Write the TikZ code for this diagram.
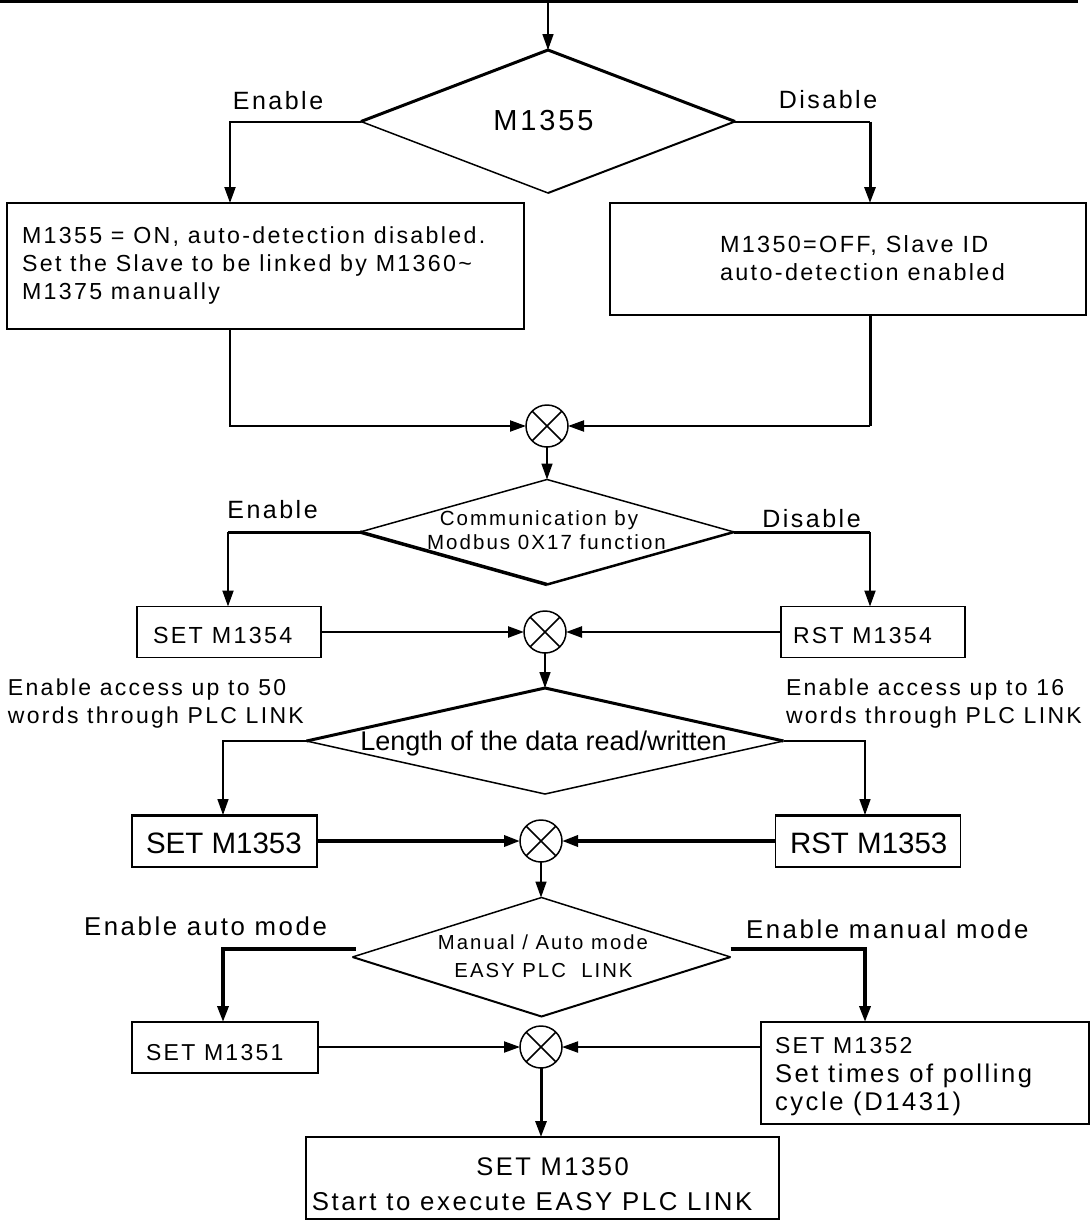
\documentclass[tikz,border=0pt]{standalone}
\usepackage{fontspec}
\setmainfont{Liberation Sans}
\newfontfamily\trk[LetterSpace=10]{Liberation Sans}
\newfontfamily\plain{Liberation Sans}
\usetikzlibrary{arrows.meta,shapes.geometric}
\newcommand{\fsz}[1]{\fontsize{#1}{#1}\selectfont}
\begin{document}
\begin{tikzpicture}[x=1pt,y=-1pt,
  >={Triangle[length=16pt,width=11pt]},
  th/.style={line width=1.5pt},
  md/.style={line width=2pt},
  mdd/.style={line width=2.5pt},
  tk/.style={line width=3pt},
  vtk/.style={line width=3.5pt},
  bx/.style={draw, rectangle, line width=1.5pt, inner sep=0pt, outer sep=0pt},
  crc/.style={draw, circle, line width=1.5pt, minimum size=42pt, inner sep=0pt, outer sep=0pt},
  dm/.style={diamond, draw=none, inner sep=0pt, outer sep=0pt},
  tx/.style={inner sep=0pt, outer sep=0pt, anchor=base},
  txl/.style={inner sep=0pt, outer sep=0pt, anchor=base west},
  line join=miter]
\useasboundingbox (0,0) rectangle (1091,1221);

% top bar
\coordinate (barL) at (0,1.5);
\coordinate (barR) at (1078,1.5);
\coordinate (topc) at (548,3);
\draw[tk] (barL) -- (barR);

% ---------- diamonds
\node[dm, minimum width=374pt, minimum height=143pt] (d1) at (548,121.5) {};
\node[dm, minimum width=374pt, minimum height=105pt] (d2) at (547,532) {};
\node[dm, minimum width=477pt, minimum height=106pt] (d3) at (545,741) {};
\node[dm, minimum width=378pt, minimum height=119pt] (d4) at (541.5,957) {};

\draw[tk] (d1.west) -- (d1.north) -- (d1.east);
\draw[th] (d1.west) -- (d1.south);
\draw[md] (d1.south) -- (d1.east);

\draw[th] (d2.west) -- (d2.north) -- (d2.east);
\draw[vtk] (d2.west) -- (d2.south);
\draw[mdd] (d2.south) -- (d2.east);

\draw[tk] (d3.west) -- (d3.north) -- (d3.east);
\draw[th] (d3.west) -- (d3.south) -- (d3.east);

\draw[th] (d4.west) -- (d4.north) -- (d4.east);
\draw[md] (d4.west) -- (d4.south) -- (d4.east);

% ---------- boxes
\node[bx, minimum width=517pt, minimum height=126pt] (b1L) at (265.5,266) {};
\node[bx, minimum width=476pt, minimum height=112pt] (b1R) at (848,259) {};
\node[bx, minimum width=184pt, minimum height=51pt] (b2L) at (229,632) {};
\node[bx, minimum width=184pt, minimum height=51pt] (b2R) at (873,632) {};
\node[bx, minimum width=185pt, minimum height=52pt] (b3L) at (224.5,841) {};
\node[bx, minimum width=185pt, minimum height=52pt] (b3R) at (868,841) {};
\node[bx, minimum width=186pt, minimum height=51pt] (b4L) at (225,1047.5) {};
\node[bx, minimum width=328pt, minimum height=102pt] (b4R) at (925,1073) {};
\node[bx, minimum width=473pt, minimum height=82pt] (b5) at (542.5,1178) {};

\draw[tk] (b3L.north west) -- (b3L.north east);
\draw[tk] (b3R.north west) -- (b3R.north east);
\draw[md] (b5.north west) -- (b5.north east);

% ---------- circles
\node[crc] (c1) at (547,426) {};
\node[crc] (c2) at (545,632) {};
\node[crc] (c3) at (541,841) {};
\node[crc] (c4) at (541,1047) {};
\foreach \c in {c1,c2,c3,c4}{
  \draw[th] (\c.north east) -- (\c.south west) (\c.north west) -- (\c.south east);
}

% ---------- connectors
\draw[th,->] (topc) -- (d1.north);

\coordinate (k1L) at (230,121.5);
\coordinate (k1R) at (870,121.5);
\draw[md,->] (d1.west) -- (k1L) -- (k1L |- b1L.north);
\draw[md] (d1.east) -- (k1R);
\draw[tk,->] (k1R) -- (k1R |- b1R.north);
\draw[md,->] (k1L |- b1L.south) |- (c1.west);
\draw[tk] (k1R |- b1R.south) -- (k1R |- c1.east);
\draw[md,->] (k1R |- c1.east) -- (c1.east);

\draw[th,->] (c1.south) -- (c1.south |- d2.north);
\coordinate (k2L) at (228,532);
\coordinate (k2R) at (870,532);
\draw[tk] (d2.west) -- (k2L);
\draw[md,->] (k2L) -- (k2L |- b2L.north);
\draw[tk] (d2.east) -- (k2R);
\draw[md,->] (k2R) -- (k2R |- b2R.north);
\draw[mdd,->] (b2L.east) -- (c2.west);
\draw[mdd,->] (b2R.west) -- (c2.east);

\draw[th,->] (c2.south) -- (c2.south |- d3.north);
\coordinate (k3L) at (223,741);
\coordinate (k3R) at (865,741);
\draw[th,->] (d3.west) -- (k3L) -- (k3L |- b3L.north);
\draw[th,->] (d3.east) -- (k3R) -- (k3R |- b3R.north);
\draw[vtk,->] (b3L.east) -- (c3.west);
\draw[vtk,->] (b3R.west) -- (c3.east);

\draw[th,->] (c3.south) -- (c3.south |- d4.north);
\coordinate (k4L) at (223,949);
\coordinate (k4R) at (865,949);
\draw[vtk,->] ([xshift=3pt,yshift=8pt]d4.west) -- (k4L) -- (k4L |- b4L.north);
\draw[vtk,->] ([yshift=8pt]d4.east) -- (k4R) -- (k4R |- b4R.north);
\draw[md,->] (b4L.east |- c4.west) -- (c4.west);
\draw[md,->] (b4R.west |- c4.east) -- (c4.east);
\draw[tk,->] (c4.south) -- (c4.south |- b5.north);

% ---------- texts
\node[tx, font={\trk\fsz{25}}] (e1) at (278,109) {Enable};
\node[tx, font={\trk\fsz{25}}] (s1) at (828,108) {Disable};
\node[tx, font={\trk\fsz{29}}] (d1t) at (543.5,130) {M1355};

\node[txl, font={\trk\fsz{23.2}}] (b1La) at (22,243) {M1355 = ON, auto-detection disabled.};
\node[txl, font={\trk\fsz{23.2}}] (b1Lb) at (22,271.5) {Set the Slave to be linked by M1360\textasciitilde};
\node[txl, font={\trk\fsz{23.2}}] (b1Lc) at (22,299) {M1375 manually};
\node[txl, font={\trk\fsz{23.4}}] (b1Ra) at (720,252.5) {M1350=OFF, Slave ID};
\node[txl, font={\trk\fsz{23.4}}] (b1Rb) at (720,280) {auto-detection enabled};

\node[tx, font={\trk\fsz{25}}] (e2) at (272.5,518) {Enable};
\node[tx, font={\trk\fsz{25}}] (s2) at (811.5,527) {Disable};
\node[tx, font={\trk\fsz{20.5}}] (d2a) at (539,525) {Communication by};
\node[tx, font={\trk\fsz{20.5}}] (d2b) at (546.5,549.5) {Modbus 0X17 function};
\node[txl, font={\trk\fsz{23.3}}] (b2Lt) at (153,643) {SET M1354};
\node[txl, font={\trk\fsz{23}}] (b2Rt) at (793,643) {RST M1354};

\node[txl, font={\trk\fsz{23}}] (l3a) at (8,695) {Enable access up to 50};
\node[txl, font={\trk\fsz{23}}] (l3b) at (8,723) {words through PLC LINK};
\node[txl, font={\trk\fsz{23}}] (r3a) at (786,695) {Enable access up to 16};
\node[txl, font={\trk\fsz{23}}] (r3b) at (786,723) {words through PLC LINK};
\node[tx, font={\plain\fsz{27}}] (d3t) at (543.5,750) {Length of the data read/written};
\node[txl, font={\plain\fsz{29.5}}] (b3Lt) at (146,853) {SET M1353};
\node[txl, font={\plain\fsz{29.5}}] (b3Rt) at (790,853) {RST M1353};

\node[txl, font={\trk\fsz{25.8}}] (e4) at (84,935) {Enable auto mode};
\node[txl, font={\trk\fsz{25.8}}] (s4) at (746,938) {Enable manual mode};
\node[tx, font={\trk\fsz{20.3}}] (d4a) at (543,949) {Manual / Auto mode};
\node[tx, font={\trk\fsz{20.3}}] (d4b) at (543.5,977) {EASY PLC\ \ LINK};
\node[txl, font={\trk\fsz{23}}] (b4Lt) at (146,1060) {SET M1351};
\node[txl, font={\trk\fsz{23}}] (b4Ra) at (775,1053) {SET M1352};
\node[txl, font={\trk\fsz{25.6}}] (b4Rb) at (775,1082) {Set times of polling};
\node[txl, font={\trk\fsz{25.6}}] (b4Rc) at (775,1110) {cycle (D1431)};

\node[tx, font={\trk\fsz{25.5}}] (b5a) at (552.5,1175) {SET M1350};
\node[tx, font={\trk\fsz{25.8}}] (b5b) at (532,1210) {Start to execute EASY PLC LINK};
\end{tikzpicture}
\end{document}
